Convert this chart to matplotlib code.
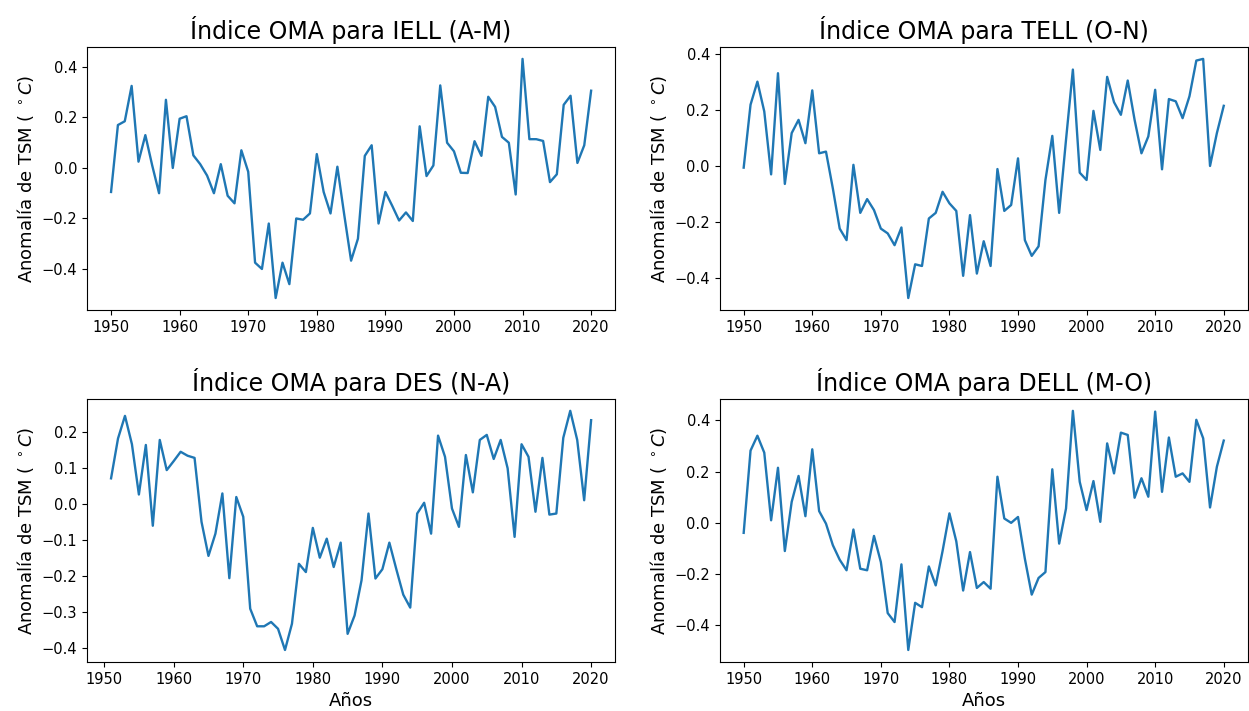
import matplotlib.pyplot as plt
import numpy as np

# Índices OMA por temporada, anomalías de TSM (°C)
years_iell = list(range(1950, 2021))
oma_iell = [-0.095, 0.17, 0.185, 0.325, 0.025, 0.13, 0.01, -0.10, 0.27, 0.0,
            0.195, 0.205, 0.05, 0.015, -0.03, -0.10, 0.015, -0.11, -0.14, 0.07,
            -0.015, -0.375, -0.40, -0.22, -0.515, -0.375, -0.46, -0.20, -0.205, -0.18,
            0.055, -0.095, -0.18, 0.005, -0.185, -0.367, -0.28, 0.048, 0.09, -0.22,
            -0.095, -0.15, -0.208, -0.176, -0.21, 0.165, -0.032, 0.01, 0.327, 0.10,
            0.066, -0.019, -0.02, 0.106, 0.048, 0.282, 0.242, 0.123, 0.10, -0.105,
            0.432, 0.114, 0.114, 0.107, -0.056, -0.025, 0.25, 0.286, 0.02, 0.09,
            0.306]

years_tell = list(range(1950, 2021))
oma_tell = [-0.006, 0.218, 0.30, 0.194, -0.03, 0.33, -0.064, 0.117, 0.164, 0.081,
            0.269, 0.045, 0.051, -0.08, -0.223, -0.264, 0.004, -0.167, -0.118, -0.157,
            -0.223, -0.24, -0.282, -0.219, -0.47, -0.35, -0.356, -0.187, -0.167, -0.092,
            -0.133, -0.16, -0.391, -0.175, -0.383, -0.268, -0.356, -0.011, -0.16, -0.139,
            0.027, -0.264, -0.32, -0.286, -0.05, 0.107, -0.167, 0.093, 0.343, -0.024,
            -0.05, 0.196, 0.057, 0.317, 0.227, 0.182, 0.304, 0.164, 0.045, 0.105,
            0.271, -0.012, 0.238, 0.23, 0.17, 0.248, 0.375, 0.381, 0.0, 0.117,
            0.214]

years_des = list(range(1951, 2021))
oma_des = [0.072, 0.183, 0.246, 0.167, 0.027, 0.165, -0.06, 0.179, 0.095,
           0.12, 0.146, 0.135, 0.129, -0.049, -0.144, -0.082, 0.03, -0.206, 0.02,
           -0.035, -0.291, -0.34, -0.34, -0.328, -0.347, -0.406, -0.333, -0.166, -0.189,
           -0.066, -0.149, -0.096, -0.175, -0.107, -0.361, -0.31, -0.212, -0.026, -0.207,
           -0.181, -0.107, -0.181, -0.252, -0.288, -0.026, 0.004, -0.082, 0.191, 0.132,
           -0.012, -0.063, 0.137, 0.033, 0.179, 0.193, 0.126, 0.179, 0.10, -0.091,
           0.167, 0.132, -0.021, 0.129, -0.029, -0.026, 0.185, 0.26, 0.179, 0.011,
           0.234]

years_dell = list(range(1950, 2021))
oma_dell = [-0.039, 0.282, 0.34, 0.274, 0.01, 0.215, -0.11, 0.082, 0.183, 0.026,
            0.287, 0.046, -0.003, -0.087, -0.144, -0.185, -0.026, -0.179, -0.185, -0.051,
            -0.153, -0.352, -0.387, -0.162, -0.496, -0.312, -0.329, -0.17, -0.244, -0.11,
            0.037, -0.072, -0.264, -0.114, -0.254, -0.231, -0.257, 0.18, 0.017, 0.0,
            0.023, -0.14, -0.28, -0.215, -0.192, 0.209, -0.081, 0.056, 0.437, 0.16,
            0.05, 0.163, 0.004, 0.31, 0.193, 0.352, 0.343, 0.098, 0.174, 0.102,
            0.434, 0.121, 0.333, 0.18, 0.193, 0.16, 0.402, 0.33, 0.06, 0.219,
            0.321]

titulos = ['Índice OMA para IELL (A-M)', 'Índice OMA para TELL (O-N)',
           'Índice OMA para DES (N-A)', 'Índice OMA para DELL (M-O)']
series = [(years_iell, oma_iell), (years_tell, oma_tell),
          (years_des, oma_des), (years_dell, oma_dell)]

fig, axs = plt.subplots(2, 2, figsize=(12.49, 7.11), dpi=100)
fig.subplots_adjust(left=0.0697, right=0.999, top=0.934, bottom=0.069,
                    wspace=0.198, hspace=0.338)

for ax, titulo, (x, y) in zip(axs.flat, titulos, series):
    ax.plot(x, y, color='#1f77b4', linewidth=1.7)
    ax.set_title(titulo, fontsize=17)
    ax.set_ylabel(r'Anomalía de TSM ( $^\circ C$)', fontsize=13)
    ax.tick_params(labelsize=10.5)

for ax in axs[1]:
    ax.set_xlabel('Años', fontsize=13)

fig.savefig('out.png', dpi=100)
